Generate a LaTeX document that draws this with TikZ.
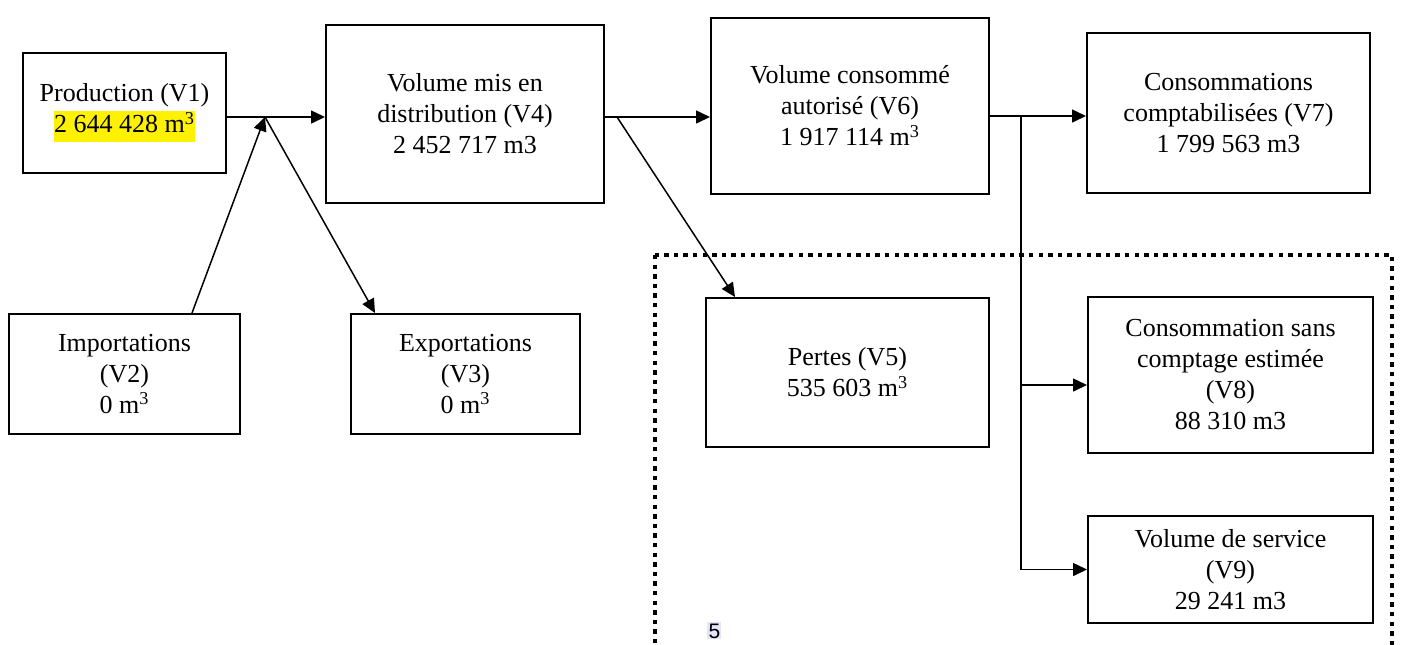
\documentclass[tikz,border=0pt]{standalone}
\usepackage{fontspec}
\setmainfont{Liberation Serif}
\setsansfont{Liberation Sans}
\usetikzlibrary{arrows.meta, positioning, calc}
\definecolor{surligne}{RGB}{228,228,250}
\setlength{\fboxsep}{0pt}
\tikzset{
    boite/.style={draw, line width=1pt, rectangle, align=center, inner sep=2pt,
        font=\fontsize{13}{15.5}\selectfont},
    fleche/.style={line width=0.75pt, -{Triangle[length=7pt,width=6.5pt]}},
    pointille/.style={line width=2.2pt, dash pattern=on 2.2pt off 2.6pt}
}

\begin{document}
\begin{tikzpicture}[x=0.5pt, y=-0.5pt]
    \useasboundingbox (0,0) rectangle (1402,644);
    \clip (0,0) rectangle (1402,644);
    \draw[pointille] (655,255) rectangle (1392,720);
    \node[boite, minimum width=101.5pt, minimum height=60pt] (v1) at (124.5,113)
        {Production (V1)\\\colorbox{yellow}{\strut 2 644 428 m\textsuperscript{3}}};
    \node[boite, minimum width=139pt, minimum height=89pt] (v4) at (465,114)
        {Volume mis en\\distribution (V4)\\2 452 717 m3};
    \node[boite, minimum width=139pt, minimum height=88pt] (v6) at (850,106)
        {Volume consommé\\autorisé (V6)\\1 917 114 m\textsuperscript{3}};
    \node[boite, minimum width=141.5pt, minimum height=80pt] (v7) at (1228.5,113)
        {Consommations\\comptabilisées (V7)\\1 799 563 m3};
    \node[boite, minimum width=115.5pt, minimum height=60pt] (v2) at (124.5,374)
        {Importations\\(V2)\\0 m\textsuperscript{3}};
    \node[boite, minimum width=114.5pt, minimum height=60pt] (v3) at (465.5,374)
        {Exportations\\(V3)\\0 m\textsuperscript{3}};
    \node[boite, minimum width=141.5pt, minimum height=74.5pt] (v5) at (847.5,372.5)
        {Pertes (V5)\\535 603 m\textsuperscript{3}};
    \node[boite, minimum width=142.5pt, minimum height=78pt] (v8) at (1230.5,375)
        {Consommation sans\\comptage estimée\\(V8)\\88 310 m3};
    \node[boite, minimum width=142.5pt, minimum height=53.5pt] (v9) at (1230.5,569.5)
        {Volume de service\\(V9)\\29 241 m3};
    \node[fill=surligne, inner sep=0.6pt, anchor=north west,
        font=\sffamily\fontsize{10.5}{12}\selectfont] (num) at (707,622) {5};
    \coordinate (j1) at (265,117);
    \coordinate (j2) at (617,117);
    \coordinate (j3) at (1021,116);
    \coordinate (j4) at (1021,385);
    \draw[fleche] (v1.east |- j1) -- (v4.west |- j1);
    \draw[fleche] ([xshift=33.75pt]v2.north) -- (j1);
    \draw[fleche] (j1) -- ([xshift=-45.25pt]v3.north);
    \draw[fleche] (v4.east |- j2) -- (v6.west |- j2);
    \draw[fleche] (j2) -- ([xshift=-56.25pt]v5.north);
    \draw[fleche] (v6.east |- j3) -- (v7.west |- j3);
    \draw[fleche] (j3) |- (v9.west);
    \draw[fleche] (j4) -- (v8.west |- j4);
\end{tikzpicture}
\end{document}
